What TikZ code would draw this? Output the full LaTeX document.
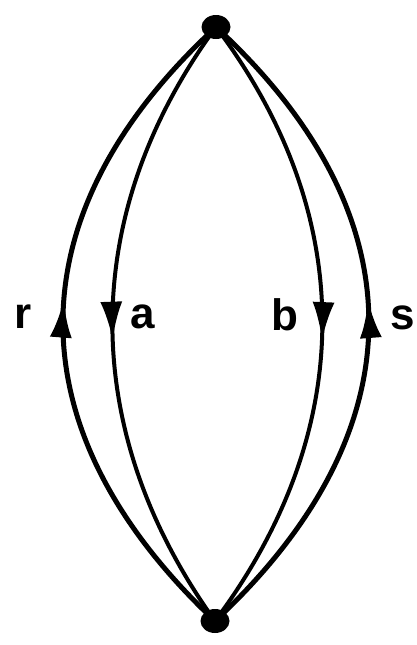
\documentclass[tikz,border=0pt]{standalone}
\usepackage{fontspec}
\setmainfont{Liberation Sans}
\usetikzlibrary{arrows.meta,decorations.markings,shapes.geometric}
\begin{document}
\begin{tikzpicture}[x=1pt,y=-1pt,
  dot/.style={ellipse,fill=black,inner sep=0pt,minimum width=29pt,minimum height=24pt},
  arcthick/.style={line width=5pt},
  arcthin/.style={line width=4pt},
  uparrow/.style={postaction={decorate},decoration={markings,mark=at position #1 with {\arrow{Latex[length=38pt,width=22pt]}}}},
  lbl/.style={font=\fontsize{44}{44}\bfseries\selectfont,inner sep=0pt}]
\useasboundingbox (0,0) rectangle (416,645);
\node[dot] (t) at (216,27) {};
\node[dot] (bt) at (215,621) {};
\draw[arcthick,uparrow=0.535] (bt.center) .. controls (12,430) and (12,215) .. (t.center);
\draw[arcthin,uparrow=0.525] (t.center) .. controls (78,215) and (78,430) .. (bt.center);
\draw[arcthin,uparrow=0.525] (t.center) .. controls (358,215) and (358,430) .. (bt.center);
\draw[arcthick,uparrow=0.535] (bt.center) .. controls (420,430) and (420,215) .. (t.center);
\node[lbl] (r) at (23,317) {r};
\node[lbl] (a) at (143,317) {a};
\node[lbl] (b) at (285,315) {b};
\node[lbl] (s) at (403,318) {s};
\end{tikzpicture}
\end{document}
